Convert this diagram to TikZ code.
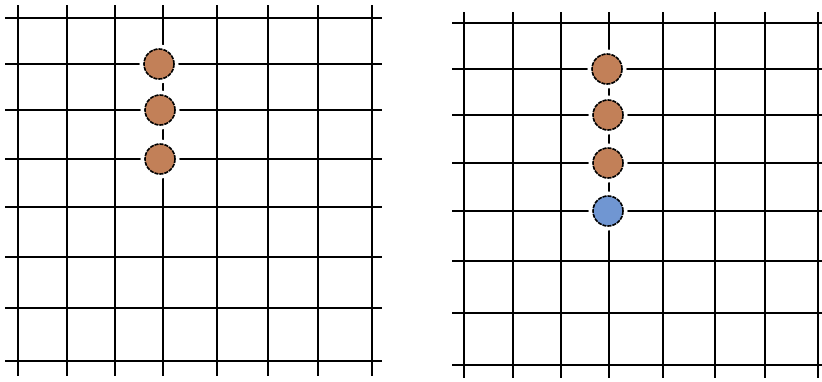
\documentclass[tikz,border=0pt]{standalone}
\usepackage{tikz}

\definecolor{stonebrown}{RGB}{194,128,88}
\definecolor{stoneblue}{RGB}{112,150,210}

\begin{document}
\begin{tikzpicture}[x=1pt, y=-1pt,
    gridline/.style={line width=2.6pt, black},
    stone/.style={circle, minimum size=30pt, inner sep=0pt, draw=black,
        line width=1.6pt, dash pattern=on 4pt off 1pt,
        preaction={draw=white, solid, line width=9pt}}]
    \useasboundingbox (0,0) rectangle (822,381);
    % --- left board: grid lines ---
    \foreach \gx in {18, 67, 115, 163, 217, 268, 318, 372}
        \draw[gridline] (\gx, 5) -- (\gx, 376);
    \foreach \gy in {18, 64, 110, 159, 207, 257, 308, 361}
        \draw[gridline] (5, \gy) -- (382, \gy);
    % --- left board: three brown stones ---
    \node[stone, fill=stonebrown] (lstoneA) at (159, 64) {};
    \node[stone, fill=stonebrown] (lstoneB) at (160, 110) {};
    \node[stone, fill=stonebrown] (lstoneC) at (160, 159) {};
    % --- right board: grid lines ---
    \foreach \gx in {464, 513, 561, 609, 663, 715, 765, 818}
        \draw[gridline] (\gx, 12) -- (\gx, 378);
    \foreach \gy in {23, 69, 115, 163, 211, 261, 313, 365}
        \draw[gridline] (452, \gy) -- (822, \gy);
    % --- right board: three brown stones and one blue stone ---
    \node[stone, fill=stonebrown] (rstoneA) at (607, 69) {};
    \node[stone, fill=stonebrown] (rstoneB) at (608, 115) {};
    \node[stone, fill=stonebrown] (rstoneC) at (608, 163) {};
    \node[stone, fill=stoneblue] (rstoneD) at (608, 211) {};
\end{tikzpicture}
\end{document}
